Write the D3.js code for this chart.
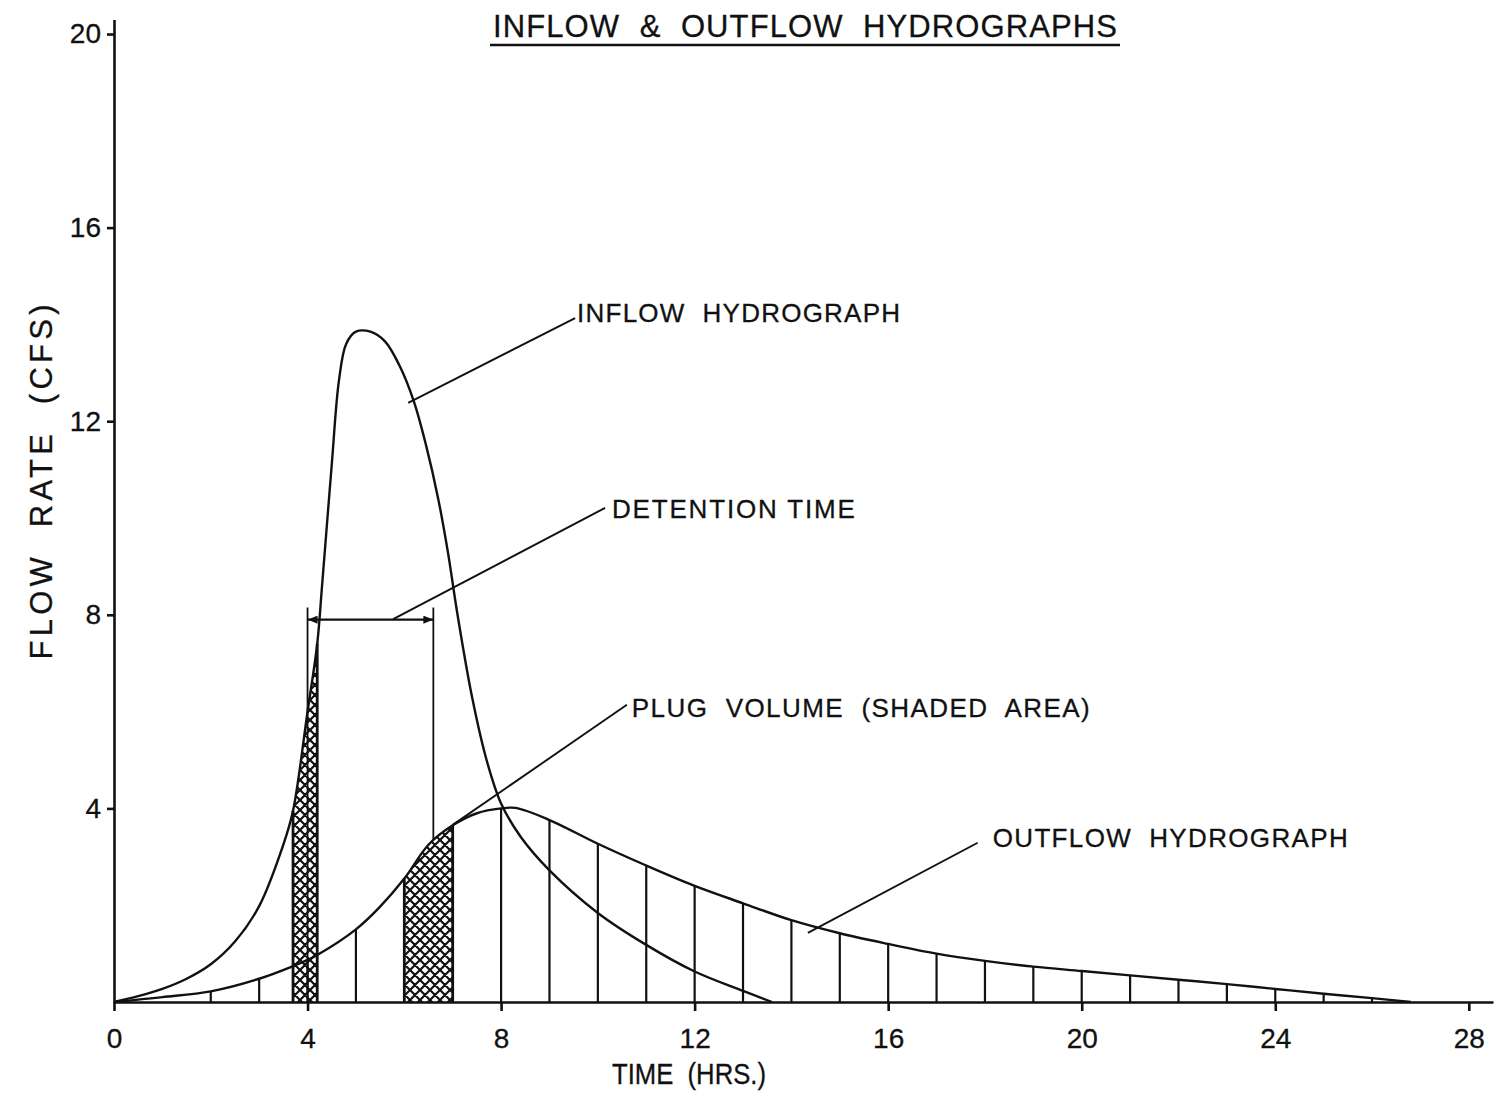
<!DOCTYPE html>
<html>
<head>
<meta charset="utf-8">
<script src="https://cdn.jsdelivr.net/npm/d3@7"></script>
<style>
  body { margin: 0; background: #fff; }
  svg text { font-family: "Liberation Sans", Arial, sans-serif; fill: #111; stroke: #111; stroke-width: 0.3px; white-space: pre; }
</style>
</head>
<body>
<script>
// values (hours, cfs)
var inflowHours = [0, 0.5, 1, 1.5, 2, 2.5, 3, 3.5, 3.7, 4, 4.2, 4.3, 4.5, 4.65, 4.8, 5.0, 5.3, 5.6, 5.9, 6.2, 6.45, 6.7, 6.9, 7.1, 7.4, 7.7, 8, 8.4, 9, 10, 11, 12, 13, 13.6];
var inflowCfs   = [0, 0.12, 0.27, 0.48, 0.78, 1.25, 1.98, 3.25, 3.95, 6.0, 7.4, 8.6, 11.1, 12.85, 13.6, 13.85, 13.85, 13.65, 13.15, 12.4, 11.5, 10.4, 9.3, 8.0, 6.3, 5.0, 4.1, 3.42, 2.72, 1.84, 1.18, 0.63, 0.23, 0];

var outflowHours = [0, 1, 2, 3, 3.7, 4, 4.2, 5, 5.5, 6, 6.5, 7, 7.5, 8, 8.3, 9, 10, 11, 12, 13, 14, 15, 16, 17, 18, 19, 20, 21, 22, 23, 24, 25, 26, 26.8];
var outflowCfs   = [0, 0.1, 0.22, 0.48, 0.74, 0.87, 0.97, 1.5, 1.97, 2.55, 3.25, 3.65, 3.9, 4.0, 4.01, 3.76, 3.27, 2.82, 2.4, 2.04, 1.69, 1.42, 1.2, 1.0, 0.85, 0.73, 0.64, 0.55, 0.46, 0.37, 0.27, 0.17, 0.08, 0];

var xTicks = [0, 4, 8, 12, 16, 20, 24, 28];
var yTicks = [4, 8, 12, 16, 20];

var plugInflow = [3.7, 4.2];     // shaded strip under inflow
var plugOutflow = [6, 7];        // shaded strip under outflow
var detentionHours = [4.0, 6.6];
var detentionLevel = 7.9;
var detentionTop = 8.15;
var detentionFoot = [0, 3.35];

var inflow = inflowHours.map(function(h, i) { return {t: h, q: inflowCfs[i]}; });
var outflow = outflowHours.map(function(h, i) { return {t: h, q: outflowCfs[i]}; });

var width = 1500, height = 1096;

var x = d3.scaleLinear().domain([0, 28.5]).range([114, 1493]);
var y = d3.scaleLinear().domain([0, 20.3]).range([1002, 19.5]);

var svg = d3.select("body").append("svg")
    .attr("width", width)
    .attr("height", height)
    .style("display", "block");

svg.append("rect").attr("width", width).attr("height", height).attr("fill", "#fff");

var defs = svg.append("defs");

// cross hatch like the drafting film
var pat = defs.append("pattern")
    .attr("id", "xhatch")
    .attr("patternUnits", "userSpaceOnUse")
    .attr("width", 10)
    .attr("height", 10);
pat.append("rect").attr("width", 10).attr("height", 10).attr("fill", "#fff");
pat.append("path")
    .attr("d", "M0,0 L10,10 M-1,9 L1,11 M9,-1 L11,1 M10,0 L0,10 M-1,1 L1,-1 M9,11 L11,9")
    .attr("stroke", "#111")
    .attr("stroke-width", 2.2);

function addClip(id, span) {
    defs.append("clipPath").attr("id", id)
        .append("rect")
        .attr("x", x(span[0]))
        .attr("y", 0)
        .attr("width", x(span[1]) - x(span[0]))
        .attr("height", height);
}
addClip("clipIn", plugInflow);
addClip("clipOut", plugOutflow);

var marker = defs.append("marker")
    .attr("id", "arrow")
    .attr("viewBox", "0 0 10 8")
    .attr("refX", 10)
    .attr("refY", 4)
    .attr("markerWidth", 10)
    .attr("markerHeight", 8)
    .attr("markerUnits", "userSpaceOnUse")
    .attr("orient", "auto-start-reverse");
marker.append("path").attr("d", "M0,0 L10,4 L0,8 z").attr("fill", "#111");

var curve = d3.curveCatmullRom.alpha(0.5);

var line = d3.line()
    .x(function(d) { return x(d.t); })
    .y(function(d) { return y(d.q); })
    .curve(curve);

var area = d3.area()
    .x(function(d) { return x(d.t); })
    .y0(y(0))
    .y1(function(d) { return y(d.q); })
    .curve(curve);

// shaded plug volume
svg.append("path").datum(inflow)
    .attr("d", area)
    .attr("fill", "url(#xhatch)")
    .attr("clip-path", "url(#clipIn)");
svg.append("path").datum(outflow)
    .attr("d", area)
    .attr("fill", "url(#xhatch)")
    .attr("clip-path", "url(#clipOut)");

// edges of the inflow strip
var inEdges = inflow.filter(function(d) { return plugInflow.indexOf(d.t) > -1; });
svg.selectAll(".inEdge").data(inEdges).enter().append("line")
    .attr("class", "inEdge")
    .attr("x1", function(d) { return x(d.t); })
    .attr("x2", function(d) { return x(d.t); })
    .attr("y1", y(0))
    .attr("y2", function(d) { return y(d.q); })
    .attr("stroke", "#111")
    .attr("stroke-width", 2.8);

// hourly verticals under the outflow curve
var hourly = outflow.filter(function(d) { return d.t % 1 == 0 && d.t >= 2 && d.t <= 26; });
svg.selectAll(".hour").data(hourly).enter().append("line")
    .attr("class", "hour")
    .attr("x1", function(d) { return x(d.t); })
    .attr("x2", function(d) { return x(d.t); })
    .attr("y1", y(0))
    .attr("y2", function(d) { return y(d.q); })
    .attr("stroke", "#111")
    .attr("stroke-width", function(d) { return plugOutflow.indexOf(d.t) > -1 ? 2.8 : 2.2; });

svg.append("path").datum(inflow)
    .attr("d", line)
    .attr("fill", "none")
    .attr("stroke", "#111")
    .attr("stroke-width", 2.4);
svg.append("path").datum(outflow)
    .attr("d", line)
    .attr("fill", "none")
    .attr("stroke", "#111")
    .attr("stroke-width", 2.4);

// detention time bracket
svg.selectAll(".det").data(detentionHours).enter().append("line")
    .attr("class", "det")
    .attr("x1", function(d) { return x(d); })
    .attr("x2", function(d) { return x(d); })
    .attr("y1", y(detentionTop))
    .attr("y2", function(d, i) { return y(detentionFoot[i]); })
    .attr("stroke", "#111")
    .attr("stroke-width", 1.8);
svg.append("line")
    .attr("x1", x(detentionHours[0]))
    .attr("x2", x(detentionHours[1]))
    .attr("y1", y(detentionLevel))
    .attr("y2", y(detentionLevel))
    .attr("stroke", "#111")
    .attr("stroke-width", 2.2)
    .attr("marker-start", "url(#arrow)")
    .attr("marker-end", "url(#arrow)");

// axes
var xAxis = svg.append("g")
    .attr("transform", "translate(0," + y(0) + ")")
    .call(d3.axisBottom(x).tickValues(xTicks).tickSize(9).tickSizeOuter(0).tickPadding(17));
var yAxis = svg.append("g")
    .attr("transform", "translate(" + x(0) + ",0)")
    .call(d3.axisLeft(y).tickValues(yTicks).tickSize(7).tickSizeOuter(0).tickPadding(6));

[xAxis, yAxis].forEach(function(g) {
    g.select(".domain").attr("stroke", "#111").attr("stroke-width", 2.6);
    g.selectAll(".tick line").attr("stroke", "#111").attr("stroke-width", 2.6);
    g.selectAll(".tick text")
        .attr("fill", "#111")
        .style("font-family", "'Liberation Sans', Arial, sans-serif")
        .style("font-size", "28px");
});

// labels with leaders
var notes = [
    {text: "INFLOW  HYDROGRAPH", at: [9.57, 14.05], len: 323, from: [6.08, 12.38], to: [9.53, 14.13]},
    {text: "DETENTION TIME", at: [10.29, 10.0], len: 243, from: [5.77, 7.91], to: [10.15, 10.21]},
    {text: "PLUG  VOLUME  (SHADED  AREA)", at: [10.7, 5.89], len: 458, from: [7.0, 3.66], to: [10.6, 6.14]},
    {text: "OUTFLOW  HYDROGRAPH", at: [18.16, 3.2], len: 355, from: [14.34, 1.43], to: [17.85, 3.29]}
];

svg.selectAll(".leader").data(notes).enter().append("line")
    .attr("class", "leader")
    .attr("x1", function(d) { return x(d.from[0]); })
    .attr("y1", function(d) { return y(d.from[1]); })
    .attr("x2", function(d) { return x(d.to[0]); })
    .attr("y2", function(d) { return y(d.to[1]); })
    .attr("stroke", "#111")
    .attr("stroke-width", 1.9);

svg.selectAll(".note").data(notes).enter().append("text")
    .attr("class", "note")
    .attr("x", function(d) { return x(d.at[0]); })
    .attr("y", function(d) { return y(d.at[1]); })
    .attr("textLength", function(d) { return d.len; })
    .attr("lengthAdjust", "spacing")
    .style("font-size", "26px")
    .text(function(d) { return d.text; });

// title, underlined
svg.append("text")
    .attr("x", 493)
    .attr("y", 37)
    .attr("textLength", 624)
    .attr("lengthAdjust", "spacing")
    .style("font-size", "31px")
    .text("INFLOW  &  OUTFLOW  HYDROGRAPHS");
svg.append("line")
    .attr("x1", 490).attr("x2", 1120)
    .attr("y1", 45).attr("y2", 45)
    .attr("stroke", "#111")
    .attr("stroke-width", 2.5);

svg.append("text")
    .attr("x", 612)
    .attr("y", 1084)
    .attr("textLength", 154)
    .attr("lengthAdjust", "spacingAndGlyphs")
    .style("font-size", "29px")
    .text("TIME  (HRS.)");

svg.append("text")
    .attr("transform", "translate(52,482) rotate(-90)")
    .attr("text-anchor", "middle")
    .attr("textLength", 355)
    .attr("lengthAdjust", "spacing")
    .style("font-size", "31px")
    .text("FLOW  RATE  (CFS)");
</script>
</body>
</html>
